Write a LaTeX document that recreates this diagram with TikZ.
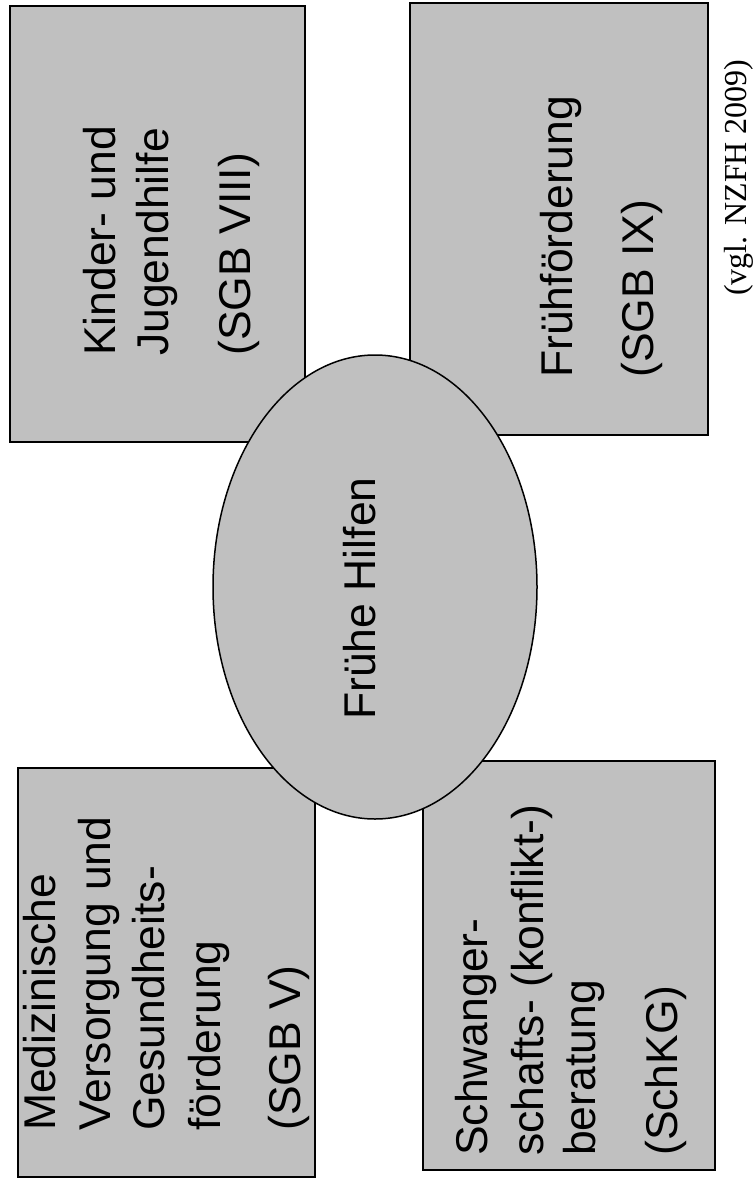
\documentclass[tikz,border=0pt]{standalone}
\usepackage{fontspec}
\setmainfont{Liberation Sans}
\newfontfamily\refserif{Liberation Serif}
\definecolor{boxgray}{RGB}{192,192,192}
\tikzset{
  panel/.style={draw=black, line width=1.5pt, fill=boxgray},
  txtline/.style={rotate=90, anchor=base west, inner sep=0pt, font=\fontsize{44.5}{53}\selectfont},
}
\begin{document}
\begin{tikzpicture}[x=1pt,y=-1pt]
\useasboundingbox (0,0) rectangle (755,1180);
\fill[white] (0,0) rectangle (755,1180);
% boxes
\draw[panel] (10,6) rectangle (305,442) coordinate (kjbox);
\draw[panel] (410,3) rectangle (708,435) coordinate (ffbox);
\draw[panel] (18,768) rectangle (315,1177) coordinate (medbox);
\draw[panel] (423,761) rectangle (715,1170) coordinate (schbox);
% ellipse
\draw[panel] (375,587) ellipse [x radius=162, y radius=232];
\coordinate (center) at (375,587);
% Kinder- und Jugendhilfe
\node[txtline] (kj1) at (115,356) {Kinder- und};
\node[txtline] (kj2) at (168,356) {Jugendhilfe};
\node[txtline] (kj3) at (250,356) {(SGB VIII)};
% Fruehfoerderung
\node[txtline] (ff1) at (572,378) {Frühförderung};
\node[txtline] (ff2) at (653,378) {(SGB IX)};
% Medizinische Versorgung
\node[txtline] (med1) at (55,1131) {Medizinische};
\node[txtline] (med2) at (110,1131) {Versorgung und};
\node[txtline] (med3) at (164,1131) {Gesundheits-};
\node[txtline] (med4) at (220,1131) {förderung};
\node[txtline] (med5) at (300,1131) {(SGB V)};
% Schwangerschaftsberatung
\node[txtline] (sch1) at (487,1156) {Schwanger-};
\node[txtline] (sch2) at (543,1156) {schafts- (konflikt-)};
\node[txtline] (sch3) at (595,1156) {beratung};
\node[txtline] (sch4) at (677,1156) {(SchKG)};
% centre
\node[txtline] (fh) at (375,720) {Frühe Hilfen};
% source
\node[rotate=90, anchor=base west, inner sep=0pt, font=\refserif\fontsize{32}{38}\selectfont] (src) at (746,296) {(vgl. NZFH 2009)};
\end{tikzpicture}
\end{document}
